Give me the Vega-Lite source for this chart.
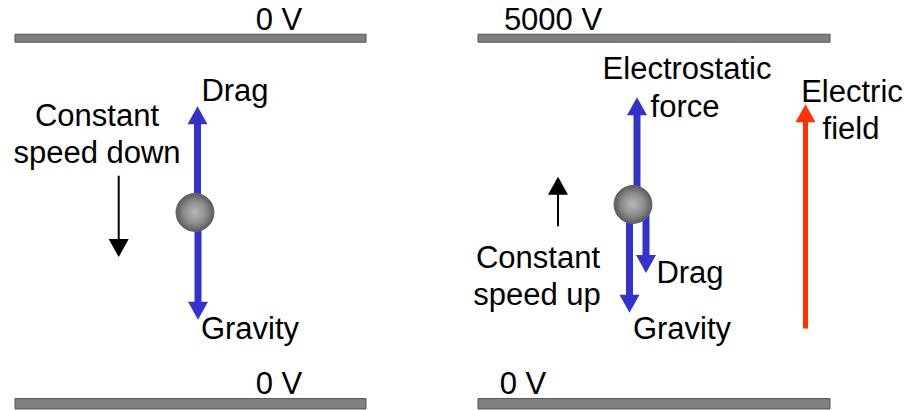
{
  "$schema": "https://vega.github.io/schema/vega-lite/v6.json",
  "width": 905,
  "height": 410,
  "autosize": {"type": "fit", "contains": "padding"},
  "padding": 0,
  "background": "white",
  "config": {"view": {"stroke": null}},
  "datasets": {
    "plates": [
      {"x1": 15, "x2": 366, "y1": 34.5, "y2": 42.5},
      {"x1": 15, "x2": 366, "y1": 401.5, "y2": 412},
      {"x1": 478, "x2": 830, "y1": 34.5, "y2": 42.5},
      {"x1": 478, "x2": 830, "y1": 401.5, "y2": 412}
    ],
    "arrows": [
      {"kind": "force", "dir": "up", "x": 197.5, "tail": 214, "tip": 107, "base": 117},
      {"kind": "force", "dir": "down", "x": 198, "tail": 214, "tip": 322, "base": 312},
      {"kind": "force", "dir": "up", "x": 637, "tail": 206, "tip": 98, "base": 108},
      {"kind": "force", "dir": "down", "x": 629.5, "tail": 206, "tip": 315, "base": 305},
      {"kind": "force", "dir": "down", "x": 646, "tail": 206, "tip": 275, "base": 265},
      {"kind": "motion", "dir": "down", "x": 118.7, "tail": 177, "tip": 259, "base": 253},
      {"kind": "motion", "dir": "up", "x": 558, "tail": 228, "tip": 178, "base": 184},
      {"kind": "field", "dir": "up", "x": 805.5, "tail": 331, "tip": 105, "base": 114}
    ],
    "balls": [
      {"x": 195, "y": 214},
      {"x": 633, "y": 206}
    ],
    "labels": [
      {"text": "0 V", "x": 279, "y": 30},
      {"text": "0 V", "x": 279, "y": 397},
      {"text": "5000 V", "x": 553, "y": 30},
      {"text": "0 V", "x": 523, "y": 397},
      {"text": "Drag", "x": 235, "y": 102},
      {"text": "Constant", "x": 97, "y": 127},
      {"text": "speed down", "x": 97, "y": 164},
      {"text": "Gravity", "x": 250, "y": 342},
      {"text": "Electrostatic", "x": 687, "y": 80},
      {"text": "force", "x": 685, "y": 118},
      {"text": "Electric", "x": 852, "y": 103},
      {"text": "field", "x": 851, "y": 140},
      {"text": "Constant", "x": 538, "y": 270},
      {"text": "speed up", "x": 537, "y": 307},
      {"text": "Drag", "x": 690, "y": 285},
      {"text": "Gravity", "x": 682, "y": 342}
    ]
  },
  "layer": [
    {
      "data": {"name": "plates"},
      "mark": {"type": "rect", "fill": "#808080", "stroke": "#555555", "strokeWidth": 1},
      "encoding": {
        "x": {"field": "x1", "type": "quantitative", "scale": {"domain": [0, 905], "nice": false, "zero": false}, "axis": null},
        "x2": {"field": "x2"},
        "y": {"field": "y1", "type": "quantitative", "scale": {"domain": [0, 410], "nice": false, "zero": false, "reverse": true}, "axis": null},
        "y2": {"field": "y2"}
      }
    },
    {
      "data": {"name": "arrows"},
      "transform": [{"filter": "datum.kind === 'force'"}],
      "mark": {"type": "rule", "color": "#3333CC", "strokeWidth": 7, "strokeCap": "butt"},
      "encoding": {
        "x": {"field": "x", "type": "quantitative"},
        "y": {"field": "tail", "type": "quantitative"},
        "y2": {"field": "base"}
      }
    },
    {
      "data": {"name": "arrows"},
      "transform": [{"filter": "datum.kind === 'force'"}],
      "mark": {"type": "point", "filled": true, "size": 4, "opacity": 1, "color": "#3333CC", "strokeWidth": 0},
      "encoding": {
        "x": {"field": "x", "type": "quantitative"},
        "y": {"field": "tip", "type": "quantitative"},
        "shape": {"field": "dir", "type": "nominal", "scale": {"domain": ["up", "down"], "range": ["M0,0L10,18L-10,18Z", "M0,0L10,-18L-10,-18Z"]}, "legend": null}
      }
    },
    {
      "data": {"name": "arrows"},
      "transform": [{"filter": "datum.kind === 'motion'"}],
      "mark": {"type": "rule", "color": "#000000", "strokeWidth": 2, "strokeCap": "butt"},
      "encoding": {
        "x": {"field": "x", "type": "quantitative"},
        "y": {"field": "tail", "type": "quantitative"},
        "y2": {"field": "base"}
      }
    },
    {
      "data": {"name": "arrows"},
      "transform": [{"filter": "datum.kind === 'motion'"}],
      "mark": {"type": "point", "filled": true, "size": 4, "opacity": 1, "color": "#000000", "strokeWidth": 0},
      "encoding": {
        "x": {"field": "x", "type": "quantitative"},
        "y": {"field": "tip", "type": "quantitative"},
        "shape": {"field": "dir", "type": "nominal", "scale": {"domain": ["up", "down"], "range": ["M0,0L4,8L-4,8Z", "M0,0L4,-8L-4,-8Z"]}, "legend": null}
      }
    },
    {
      "data": {"name": "arrows"},
      "transform": [{"filter": "datum.kind === 'field'"}],
      "mark": {"type": "rule", "color": "#FF3300", "strokeWidth": 5, "strokeCap": "butt"},
      "encoding": {
        "x": {"field": "x", "type": "quantitative"},
        "y": {"field": "tail", "type": "quantitative"},
        "y2": {"field": "base"}
      }
    },
    {
      "data": {"name": "arrows"},
      "transform": [{"filter": "datum.kind === 'field'"}],
      "mark": {"type": "point", "filled": true, "size": 4, "opacity": 1, "color": "#FF3300", "strokeWidth": 0},
      "encoding": {
        "x": {"field": "x", "type": "quantitative"},
        "y": {"field": "tip", "type": "quantitative"},
        "shape": {"field": "dir", "type": "nominal", "scale": {"domain": ["up", "down"], "range": ["M0,0L7,14L-7,14Z", "M0,0L7,-14L-7,-14Z"]}, "legend": null}
      }
    },
    {
      "data": {"name": "balls"},
      "mark": {
        "type": "point",
        "shape": "circle",
        "filled": true,
        "size": 1444,
        "opacity": 1,
        "fill": {"gradient": "radial", "stops": [{"offset": 0, "color": "#b8b8b8"}, {"offset": 0.6, "color": "#8c8c8c"}, {"offset": 1, "color": "#5a5a5a"}]},
        "stroke": "#666666",
        "strokeWidth": 1
      },
      "encoding": {
        "x": {"field": "x", "type": "quantitative"},
        "y": {"field": "y", "type": "quantitative"}
      }
    },
    {
      "data": {"name": "labels"},
      "mark": {"type": "text", "font": "Liberation Sans", "fontSize": 31, "align": "center", "baseline": "alphabetic", "color": "#000000"},
      "encoding": {
        "x": {"field": "x", "type": "quantitative"},
        "y": {"field": "y", "type": "quantitative"},
        "text": {"field": "text", "type": "nominal"}
      }
    }
  ]
}
